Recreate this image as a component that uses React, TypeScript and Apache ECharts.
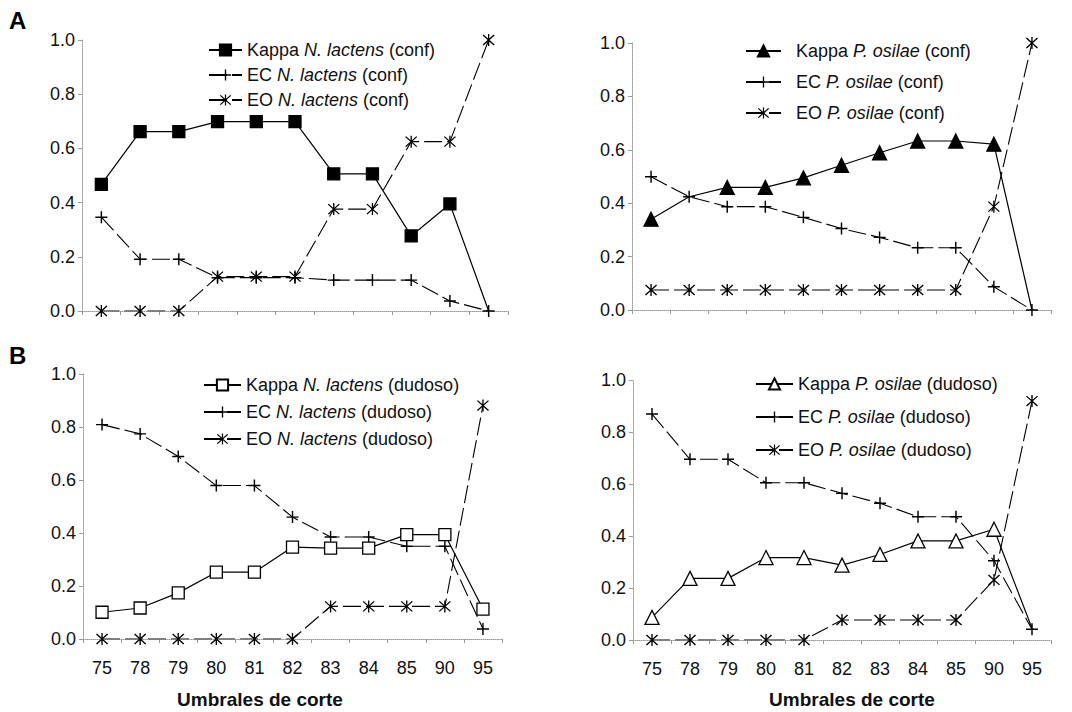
import React, { useEffect, useRef } from "react";
import * as echarts from "echarts";

const categories = ["75", "78", "79", "80", "81", "82", "83", "84", "85", "90", "95"];
const yTicks = [0, 0.2, 0.4, 0.6, 0.8, 1.0];

// Panel A (conf)
const kappaNlConf = [0.467, 0.662, 0.662, 0.699, 0.699, 0.699, 0.506, 0.506, 0.277, 0.395, 0];
const ecNlConf = [0.346, 0.191, 0.191, 0.123, 0.123, 0.123, 0.114, 0.114, 0.114, 0.037, 0];
const eoNlConf = [0, 0, 0, 0.127, 0.127, 0.127, 0.376, 0.376, 0.625, 0.625, 1.0];
const kappaPoConf = [0.34, 0.424, 0.459, 0.459, 0.495, 0.542, 0.589, 0.633, 0.633, 0.621, 0];
const ecPoConf = [0.499, 0.424, 0.387, 0.387, 0.347, 0.305, 0.272, 0.233, 0.233, 0.087, 0];
const eoPoConf = [0.075, 0.075, 0.075, 0.075, 0.075, 0.075, 0.075, 0.075, 0.075, 0.387, 1.0];

// Panel B (dudoso)
const kappaNlDud = [0.101, 0.117, 0.174, 0.252, 0.252, 0.347, 0.343, 0.343, 0.394, 0.394, 0.113];
const ecNlDud = [0.809, 0.774, 0.689, 0.579, 0.579, 0.46, 0.385, 0.385, 0.35, 0.35, 0.038];
const eoNlDud = [0, 0, 0, 0, 0, 0, 0.123, 0.123, 0.123, 0.123, 0.881];
const kappaPoDud = [0.087, 0.237, 0.237, 0.317, 0.317, 0.288, 0.329, 0.381, 0.381, 0.426, 0.045];
const ecPoDud = [0.869, 0.695, 0.695, 0.605, 0.605, 0.564, 0.526, 0.474, 0.474, 0.305, 0.041];
const eoPoDud = [0, 0, 0, 0, 0, 0.077, 0.077, 0.077, 0.077, 0.231, 0.919];

// points drawn without a marker in the original
const noMarkKappaNlConf = [10];
const noMarkKappaPoConf = [1, 10];
const noMarkKappaPoDud = [10];

const FONT = "Liberation Sans, Arial, sans-serif";
const PLUS = "path://M4.4,0H5.6V4.4H10V5.6H5.6V10H4.4V5.6H0V4.4H4.4Z";
const STAR =
  "path://M4.5,0H5.5V10H4.5Z M0.5,1.2L1.2,0.5L9.5,8.8L8.8,9.5Z M8.8,0.5L9.5,1.2L1.2,9.5L0.5,8.8Z";

const grids = [
  { left: 82, right: 564, top: 40, height: 271 },
  { left: 632, right: 21, top: 43, height: 267 },
  { left: 83, right: 570, top: 374, height: 265 },
  { left: 633, right: 21, top: 380, height: 260 },
];

function mkData(vals: number[], noMark: number[] = []) {
  return vals.map((v, i) => (noMark.includes(i) ? { value: v, symbol: "none" } : v));
}

function kappa(name: string, idx: number, vals: number[], symbol: string, filled: boolean, noMark: number[] = []) {
  return {
    name,
    type: "line",
    xAxisIndex: idx,
    yAxisIndex: idx,
    data: mkData(vals, noMark),
    symbol,
    symbolSize: symbol === "triangle" ? 14 : 12,
    showAllSymbol: true,
    lineStyle: { color: "#000", width: 1.2 },
    itemStyle: { color: filled ? "#000" : "#fff", borderColor: "#000", borderWidth: 1.3 },
    z: 3,
  };
}

function marks(name: string, idx: number, vals: number[], symbol: string) {
  return {
    name,
    type: "line",
    xAxisIndex: idx,
    yAxisIndex: idx,
    data: mkData(vals),
    symbol,
    symbolSize: 12,
    showAllSymbol: true,
    lineStyle: { color: "#000", width: 1.1, type: [18, 5] },
    itemStyle: { color: "#000", borderWidth: 0 },
    z: 2,
  };
}

function legendFor(names: string[], left: number, top: number, gap: number, itemWidth: number, textPad: number) {
  return {
    orient: "vertical",
    left,
    top,
    itemGap: gap,
    itemWidth,
    itemHeight: 14,
    data: names,
    formatter: (n: string) => {
      const m = n.match(/^(\S+) (N\. lactens|P\. osilae) (.*)$/);
      if (!m) return n;
      return `{t|${m[1]} }{i|${m[2]}}{t| ${m[3]}}`;
    },
    textStyle: {
      fontFamily: FONT,
      fontSize: 18,
      color: "#111",
      padding: [0, 0, 0, textPad],
      rich: {
        t: { fontFamily: FONT, fontSize: 18, color: "#111", lineHeight: 18 },
        i: { fontFamily: FONT, fontSize: 18, fontStyle: "italic", color: "#111", lineHeight: 18 },
      },
    },
  };
}

export default function App() {
  const ref = useRef<HTMLDivElement>(null);
  useEffect(() => {
    document.body.style.margin = "0";
    const chart = echarts.init(ref.current!, undefined, { renderer: "svg" });
    const names = [
      ["Kappa N. lactens (conf)", "EC N. lactens (conf)", "EO N. lactens (conf)"],
      ["Kappa P. osilae (conf)", "EC P. osilae (conf)", "EO P. osilae (conf)"],
      ["Kappa N. lactens (dudoso)", "EC N. lactens (dudoso)", "EO N. lactens (dudoso)"],
      ["Kappa P. osilae (dudoso)", "EC P. osilae (dudoso)", "EO P. osilae (dudoso)"],
    ];
    const option: any = {
      animation: false,
      backgroundColor: "#fff",
      grid: grids.map((g) => ({ ...g, containLabel: false })),
      xAxis: grids.map((_, i) => ({
        type: "category",
        gridIndex: i,
        data: categories,
        boundaryGap: true,
        axisLine: { show: true, lineStyle: { color: "#999", type: "dotted", width: 1 } },
        axisTick: { show: true, length: 4, lineStyle: { color: "#999" } },
        axisLabel: {
          show: i >= 2,
          fontFamily: FONT,
          fontSize: 18,
          color: "#111",
          margin: 20,
        },
        splitLine: { show: false },
      })),
      yAxis: grids.map((_, i) => ({
        type: "value",
        gridIndex: i,
        min: yTicks[0],
        max: yTicks[yTicks.length - 1],
        interval: 0.2,
        axisLine: { show: true, lineStyle: { color: "#999", type: "dotted", width: 1 } },
        axisTick: { show: true, length: 4, lineStyle: { color: "#999" } },
        axisLabel: {
          fontFamily: FONT,
          fontSize: 18,
          color: "#111",
          margin: 7,
          formatter: (v: number) => v.toFixed(1),
        },
        splitLine: { show: false },
      })),
      legend: [
        legendFor(names[0], 203, 36, 7, 33, 0),
        legendFor(names[1], 740, 37, 13, 35, 10),
        legendFor(names[2], 198, 371, 9, 37, 0),
        legendFor(names[3], 750, 370, 15, 37, 0),
      ],
      series: [
        kappa(names[0][0], 0, kappaNlConf, "rect", true, noMarkKappaNlConf),
        marks(names[0][1], 0, ecNlConf, PLUS),
        marks(names[0][2], 0, eoNlConf, STAR),
        kappa(names[1][0], 1, kappaPoConf, "triangle", true, noMarkKappaPoConf),
        marks(names[1][1], 1, ecPoConf, PLUS),
        marks(names[1][2], 1, eoPoConf, STAR),
        kappa(names[2][0], 2, kappaNlDud, "rect", false),
        marks(names[2][1], 2, ecNlDud, PLUS),
        marks(names[2][2], 2, eoNlDud, STAR),
        kappa(names[3][0], 3, kappaPoDud, "triangle", false, noMarkKappaPoDud),
        marks(names[3][1], 3, ecPoDud, PLUS),
        marks(names[3][2], 3, eoPoDud, STAR),
      ],
      graphic: [
        { type: "text", left: 9, top: 8, style: { text: "A", font: `bold 24px ${FONT}`, fill: "#000" } },
        { type: "text", left: 9, top: 343, style: { text: "B", font: `bold 24px ${FONT}`, fill: "#000" } },
        {
          type: "text",
          x: 260,
          y: 699,
          style: { text: "Umbrales de corte", font: `bold 19px ${FONT}`, fill: "#111", align: "center", verticalAlign: "middle" },
        },
        {
          type: "text",
          x: 852,
          y: 699,
          style: { text: "Umbrales de corte", font: `bold 19px ${FONT}`, fill: "#111", align: "center", verticalAlign: "middle" },
        },
      ],
    };
    chart.setOption(option);
    return () => chart.dispose();
  }, []);
  return <div ref={ref} style={{ position: "fixed", left: 0, top: 0, width: 1072, height: 712 }} />;
}
